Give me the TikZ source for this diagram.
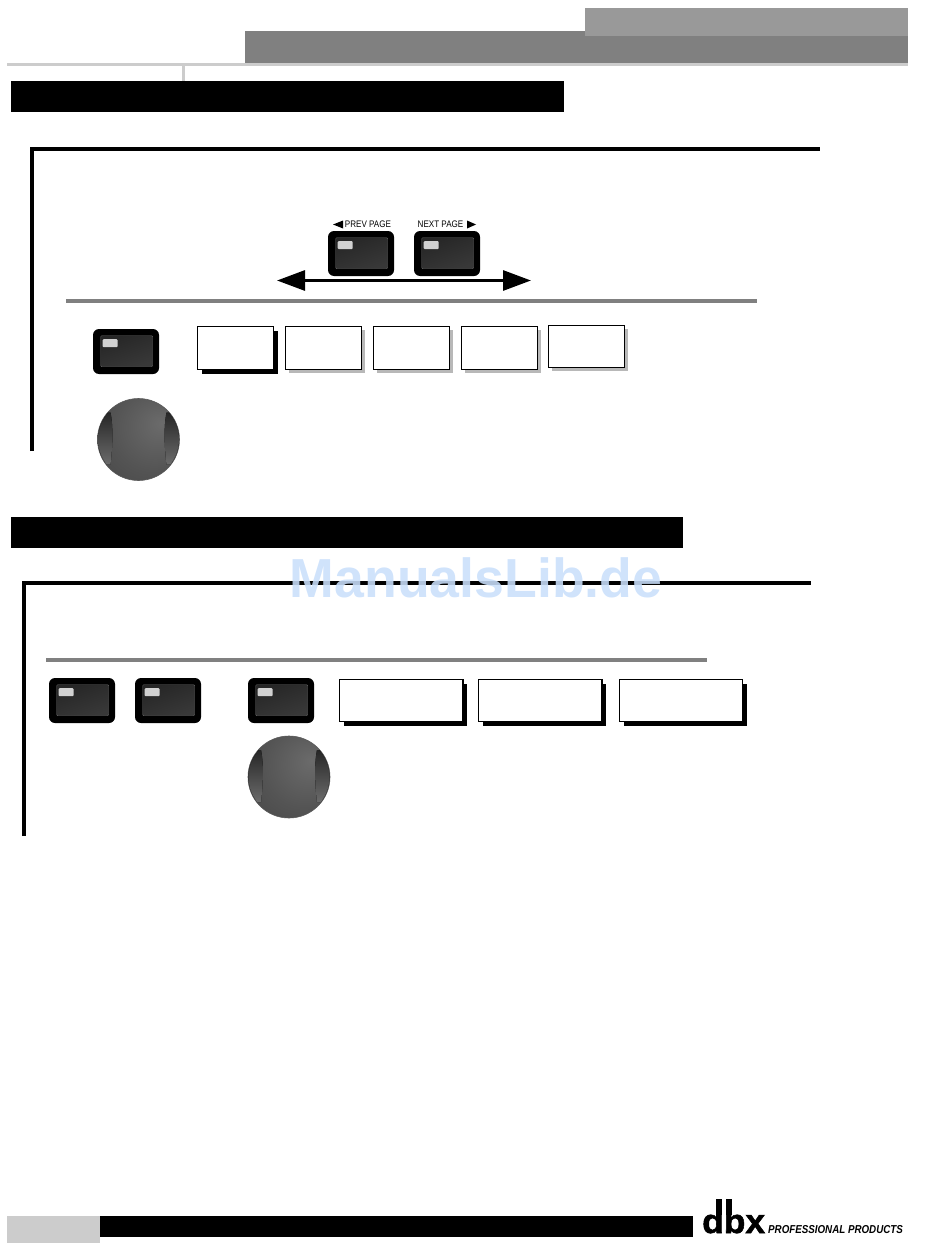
\documentclass[tikz,border=0pt]{standalone}
\usepackage{fontspec}
\setmainfont{Liberation Sans}
\newfontfamily\logofont[UprightFont=* Bold,FakeBold=1.6]{Liberation Sans}
\usetikzlibrary{arrows.meta,shadows}
\definecolor{knobdark}{HTML}{262626}
\definecolor{markblue}{HTML}{C9DFFB}
\pgfdeclareradialshading{knobshade}{\pgfpoint{14bp}{10bp}}{color(0bp)=(black!58); color(25bp)=(black!67); color(50bp)=(black!74); color(70bp)=(black!80)}
\tikzset{
  softkey/.style={draw=black,fill=white,line width=1.2pt,inner sep=0pt,outer sep=0pt,anchor=north west,minimum height=43pt},
  blackshadow/.style={drop shadow={shadow xshift=4pt,shadow yshift=-4pt,fill=black,opacity=1}},
  grayshadow/.style={drop shadow={shadow xshift=3.5pt,shadow yshift=-3.5pt,fill=black!28,opacity=1}},
  banner/.style={fill=black,inner sep=0pt,outer sep=0pt,anchor=north west,minimum height=31pt},
  frameline/.style={line width=4pt},
  ruleline/.style={draw=black!50,line width=4pt},
  keylabel/.style={font=\fontsize{9.5}{9.5}\selectfont,inner sep=0pt,xscale=0.85},
}
% front panel button, top left corner at #2,#3
\newcommand{\panelbutton}[3]{%
  \node[fill=black,rounded corners=6pt,minimum width=66pt,minimum height=45pt,inner sep=0pt,outer sep=0pt,anchor=north west] (#1) at (#2,#3) {};
  \node[shading=axis,left color=black!85,right color=black!78,shading angle=20,rounded corners=1pt,draw=black!60,line width=0.4pt,minimum width=52pt,minimum height=31pt,inner sep=0pt,anchor=north west,xshift=7.5pt,yshift=-6.5pt] (#1inner) at (#1.north west) {};
  \node[fill=black!18,rounded corners=1pt,minimum width=15pt,minimum height=8pt,inner sep=0pt,anchor=north west,xshift=2pt,yshift=-3.5pt] (#1led) at (#1inner.north west) {};
}
% round knob with its two darker sides, centre at #2,#3
\newcommand{\panelknob}[3]{%
  \node[circle,draw=black!65,line width=0.6pt,shading=knobshade,minimum size=82pt,inner sep=0pt,outer sep=0pt] (#1) at (#2,#3) {};
  \begin{scope}
    \clip (#2,#3) circle (40.5pt);
    \fill[top color=knobdark,bottom color=black!58] (#2-28,#3-27) .. controls (#2-25,#3-12) and (#2-26,#3+8) .. (#2-28,#3+25) -- (#2-42,#3+25) -- (#2-42,#3-27) -- cycle;
    \fill[top color=knobdark,bottom color=black!58] (#2+28,#3-27) .. controls (#2+25,#3-12) and (#2+26,#3+8) .. (#2+28,#3+25) -- (#2+42,#3+25) -- (#2+42,#3-27) -- cycle;
  \end{scope}
}
\begin{document}
\begin{tikzpicture}[x=1pt,y=-1pt]
\useasboundingbox (0,0) rectangle (950,1260);

% page header
\fill[black!50] (245,31) rectangle (908,63);
\fill[black!40] (585,8) rectangle (908,36);
\fill[black!20] (7,63) rectangle (908,66);
\fill[black!20] (182,66) rectangle (185,81);

% first section
\node[banner,minimum width=553pt] (bannerone) at (11,81) {};
\draw[frameline] (32,451) -- (32,149) -- (820,149);
\panelbutton{prevpage}{328}{231}
\panelbutton{nextpage}{414}{231}
\node[keylabel] (prevlabel) at (368,224.5) {PREV PAGE};
\node[keylabel] (nextlabel) at (440.5,224.5) {NEXT PAGE};
\fill (333,224.5) -- (343,220.5) -- (343,228.5) -- cycle;
\fill (476,224.5) -- (467,220.5) -- (467,228.5) -- cycle;
\coordinate (pageleft) at (277,280.5);
\coordinate (pageright) at (531,280.5);
\draw[line width=3pt,{Triangle[length=28pt,width=20pt]}-{Triangle[length=28pt,width=20pt]}] (pageleft) -- (pageright);
\draw[ruleline] (66,301) -- (757,301);
\panelbutton{selectone}{93}{329}
\node[softkey,blackshadow,minimum width=76pt] (boxa) at (197.5,326.5) {};
\node[softkey,grayshadow,minimum width=76pt] (boxb) at (285.5,326.5) {};
\node[softkey,grayshadow,minimum width=76pt] (boxc) at (373.5,326.5) {};
\node[softkey,grayshadow,minimum width=76pt] (boxd) at (461.5,326.5) {};
\node[softkey,grayshadow,minimum width=76pt,minimum height=42pt] (boxe) at (548.5,325.5) {};
\panelknob{knobone}{138.5}{439.5}

% second section
\node[banner,minimum width=672pt] (bannertwo) at (11,517) {};
\draw[frameline] (24,836) -- (24,583) -- (811,583);
\node[font=\bfseries\fontsize{55}{55}\selectfont,text=markblue,text opacity=0.88,inner sep=0pt,anchor=base,xscale=0.975] (mark) at (476,597) {ManualsLib.de};
\draw[ruleline] (46,660) -- (707,660);
\panelbutton{selecta}{49}{678}
\panelbutton{selectb}{135}{678}
\panelbutton{selectc}{248}{678}
\node[softkey,blackshadow,minimum width=123.5pt,minimum height=42pt] (boxf) at (339.5,679.5) {};
\node[softkey,blackshadow,minimum width=123.5pt,minimum height=42pt] (boxg) at (478.5,679.5) {};
\node[softkey,blackshadow,minimum width=123pt,minimum height=42pt] (boxh) at (619.5,679.5) {};
\panelknob{knobtwo}{289}{777}

% page footer
\fill[black!20] (7,1216) rectangle (100,1243);
\fill[black] (100,1216) rectangle (693,1237);
\node[font=\logofont\fontsize{34}{34}\selectfont,inner sep=0pt,anchor=base west,xscale=1.04] (logo) at (702,1233) {dbx};
\fill (715.5,1199) rectangle (721.5,1215);
\fill (725.5,1199) rectangle (731.5,1215);
\node[font=\bfseries\itshape\fontsize{11.5}{11.5}\selectfont,inner sep=0pt,anchor=base west,xscale=0.85] (products) at (768,1233) {PROFESSIONAL PRODUCTS};
\end{tikzpicture}
\end{document}
